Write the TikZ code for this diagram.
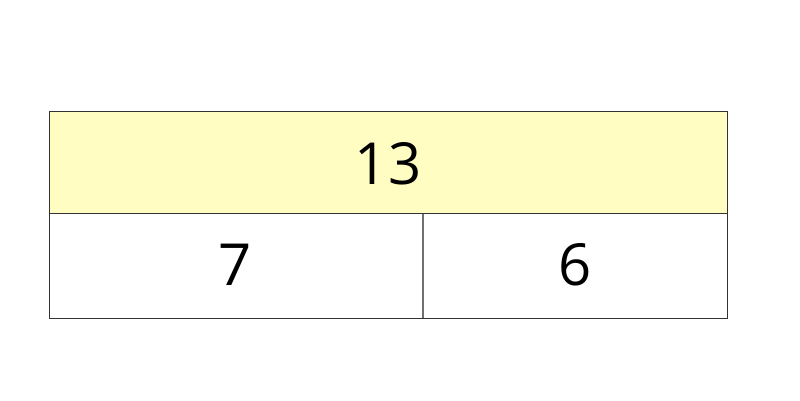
\documentclass[tikz,border=0pt]{standalone}
\usepackage{fontspec}
\setmainfont{Open Sans}
\definecolor{topfill}{HTML}{FFFDC2}
\definecolor{edge}{HTML}{333333}
\definecolor{divgray}{HTML}{707070}
\begin{document}
\begin{tikzpicture}[x=1pt,y=1pt,
  num/.style={font=\fontsize{58}{60}\selectfont,text=black,inner sep=0pt}]
\useasboundingbox (0,0) rectangle (800,400);
\path[fill=topfill,draw=edge,line width=0.8pt] (49.5,289) rectangle (727,186.5);
\path[fill=white,draw=edge,line width=0.8pt] (49.5,186.5) rectangle (727,82);
\coordinate (dtop) at (423,186.5);
\coordinate (dbot) at (423,82);
\draw[divgray,line width=2.2pt] (dtop) -- (dbot);
\node[num] (t13) at (388,236) {13};
\node[num] (t7) at (235,135) {7};
\node[num] (t6) at (575,135) {6};
\end{tikzpicture}
\end{document}
